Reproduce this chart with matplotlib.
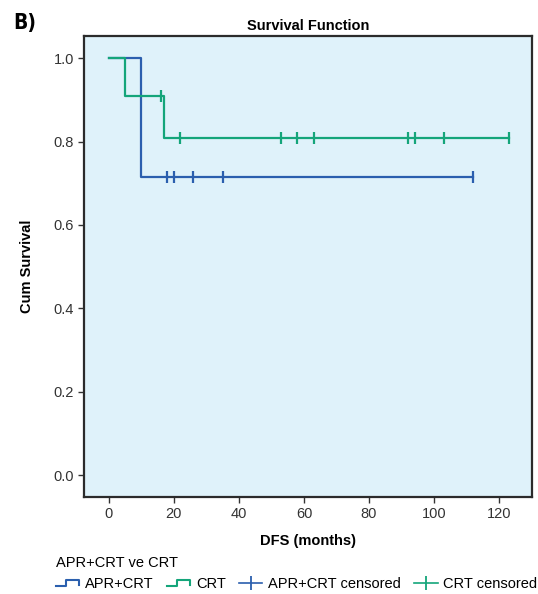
import matplotlib
matplotlib.use("Agg")
import matplotlib.pyplot as plt
from matplotlib.lines import Line2D
from matplotlib.legend_handler import HandlerBase
import numpy as np

# DFS data (months), event=1 -> relapse, event=0 -> censored
apr_times = [10, 10, 18, 20, 26, 35, 112]
apr_events = [1, 1, 0, 0, 0, 0, 0]
crt_times = [5, 16, 17, 22, 53, 58, 63, 92, 94, 103, 123]
crt_events = [1, 0, 1, 0, 0, 0, 0, 0, 0, 0, 0]

group_names = ["APR+CRT", "CRT"]
blue = "#2b5fae"
green = "#14a57a"
bg = "#dff2fa"

plt.rcParams['font.family'] = ['Liberation Sans', 'DejaVu Sans']


def km_curve(times, events):
    t = np.array(times, dtype=float)
    e = np.array(events)
    xs, ys = [0.0], [1.0]
    s = 1.0
    for ut in np.unique(t):
        d = np.sum((t == ut) & (e == 1))
        n = np.sum(t >= ut)
        if d > 0:
            s *= (1 - d / n)
            xs.append(ut)
            ys.append(s)
    xs.append(t.max())
    ys.append(ys[-1])
    return np.array(xs), np.array(ys)


def surv_at(xs, ys, t):
    idx = np.searchsorted(xs, t, side='right') - 1
    return ys[idx]


class StepHandler(HandlerBase):
    # little step-shaped icon like the SPSS legend
    def create_artists(self, legend, orig_handle, xdescent, ydescent,
                       width, height, fontsize, trans):
        x0, y0 = -xdescent, -ydescent
        xs = [x0, x0 + width * 0.45, x0 + width * 0.45, x0 + width, x0 + width]
        ys = [y0 + height * 0.15, y0 + height * 0.15, y0 + height * 0.8,
              y0 + height * 0.8, y0 + height * 0.3]
        ln = Line2D(xs, ys, color=orig_handle.get_color(), lw=1.5, transform=trans)
        return [ln]


fig = plt.figure(figsize=(5.38, 5.94), dpi=100)
ax = fig.add_axes([0.1567, 0.1638, 0.8316, 0.7756])
ax.set_facecolor(bg)

handles = []
cens = []
for times, events, col in [(apr_times, apr_events, blue), (crt_times, crt_events, green)]:
    xs, ys = km_curve(times, events)
    ln, = ax.step(xs, ys, where='post', color=col, lw=1.6, zorder=3)
    handles.append(ln)
    ct = [t for t, e in zip(times, events) if e == 0]
    cy = [surv_at(xs, ys, t) for t in ct]
    ax.plot(ct, cy, linestyle='none', marker='|', ms=9, mew=1.6, color=col, zorder=4)
    cens.append(Line2D([], [], color=col, lw=1.2, marker='|', ms=10, mew=1.3))

ax.set_xlim(-7.5, 130)
ax.set_ylim(-0.052, 1.0535)
ax.set_xticks(np.arange(0, 121, 20))
ax.set_yticks(np.arange(0, 1.01, 0.2))
ax.set_yticklabels([f"{v:.1f}" for v in np.arange(0, 1.01, 0.2)])
ax.tick_params(direction='out', length=4, width=1, labelsize=10.5, colors='#333333')
for sp in ax.spines.values():
    sp.set_linewidth(1.6)
    sp.set_color('#2b2b2b')

ax.set_title("Survival Function", fontsize=10.5, fontweight='bold', pad=4)
ax.set_xlabel("DFS (months)", fontsize=10.5, fontweight='bold', labelpad=9)
ax.set_ylabel("Cum Survival", fontsize=10.5, fontweight='bold', labelpad=14)

fig.text(0.024, 0.962, "B)", fontsize=15, fontweight='bold', fontstretch='condensed',
         family=['DejaVu Sans'], va='center')

leg = fig.legend(handles + cens,
                 group_names + [g + " censored" for g in group_names],
                 handler_map={handles[0]: StepHandler(), handles[1]: StepHandler()},
                 loc='lower left', bbox_to_anchor=(0.085, -0.012), ncol=4,
                 frameon=False, title="APR+CRT ve CRT", alignment='left',
                 fontsize=10.5, title_fontsize=10.5, handlelength=1.6,
                 handletextpad=0.4, columnspacing=0.9, borderpad=0.2,
                 numpoints=1)

fig.savefig("out.png", dpi=100)
